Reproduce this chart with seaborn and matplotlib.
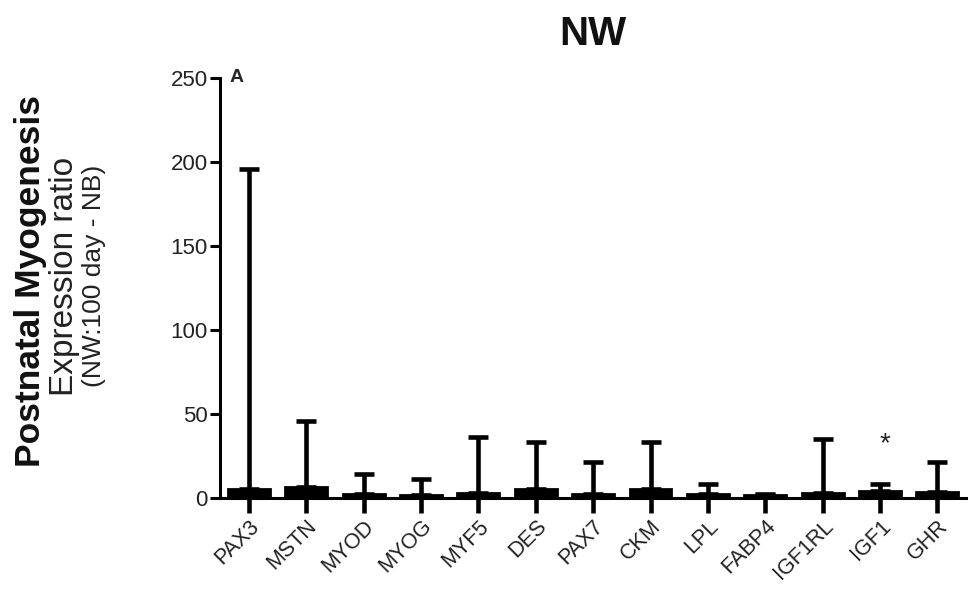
import numpy as np
import pandas as pd
import seaborn as sns
import matplotlib.pyplot as plt

# gene expression ratio, NW 100 day vs NB
genes = ['PAX3', 'MSTN', 'MYOD', 'MYOG', 'MYF5', 'DES', 'PAX7',
         'CKM', 'LPL', 'FABP4', 'IGF1RL', 'IGF1', 'GHR']
ratio = [5.5, 6.5, 2.0, 1.5, 3.0, 5.5, 2.0, 5.0, 2.0, 1.5, 3.0, 4.0, 3.5]
err_top = [196, 46, 14, 11, 36, 33, 21, 33, 8, 2, 35, 8, 21]
signif = ['', '', '', '', '', '', '', '', '', '', '', '*', '']

df = pd.DataFrame({'gene': genes, 'ratio': ratio, 'top': err_top})
df['err'] = df['top'] - df['ratio']

sns.set_style('ticks')
plt.rcParams['font.family'] = ['Liberation Sans', 'DejaVu Sans']

fig = plt.figure(figsize=(9.7, 6.07), dpi=100)
ax = fig.add_axes([0.227, 0.18, 0.769, 0.6915])

sns.barplot(data=df, x='gene', y='ratio', color='black', edgecolor='black',
            linewidth=2, width=0.73, errorbar=None, ax=ax)

ax.errorbar(np.arange(len(genes)), df['ratio'],
            yerr=[np.zeros(len(genes)), df['err']],
            fmt='none', ecolor='black', elinewidth=3.3, capsize=7.5, capthick=3.3)

for i, s in enumerate(signif):
    if s:
        ax.text(i + 0.08, df['top'][i] + 16, s, ha='center', va='bottom',
                fontsize=20, color='#222222')

ax.set_xlim(-0.5, len(genes) - 0.5)
ax.set_ylim(0, 250)
ax.set_yticks([0, 50, 100, 150, 200, 250])

sns.despine(ax=ax)
for side in ['left', 'bottom']:
    ax.spines[side].set_linewidth(2.2)
    ax.spines[side].set_color('black')

ax.tick_params(axis='y', length=7, width=2.2, labelsize=16, colors='black',
               labelcolor='#222222', pad=2)
ax.tick_params(axis='x', length=11, width=3.3, labelsize=15.5, colors='black',
               labelcolor='#222222', pad=2)
plt.setp(ax.get_xticklabels(), rotation=45, ha='right', rotation_mode='anchor')

ax.set_xlabel('')
ax.set_ylabel('')

ax.set_title('NW', fontsize=29, fontweight='bold', pad=24, color='#111111')
ax.text(0.013, 1.0, 'A', transform=ax.transAxes, fontsize=14,
        fontweight='bold', va='center', ha='left')

# three line y label
fig.text(0.031, 0.537, 'Postnatal Myogenesis', rotation=90, fontsize=25.5,
         fontweight='bold', ha='center', va='center', color='#111111')
fig.text(0.067, 0.545, 'Expression ratio', rotation=90, fontsize=24,
         ha='center', va='center', color='#222222')
fig.text(0.097, 0.545, '(NW:100 day - NB)', rotation=90, fontsize=19,
         ha='center', va='center', color='#222222')

fig.savefig('out.png', dpi=100)
